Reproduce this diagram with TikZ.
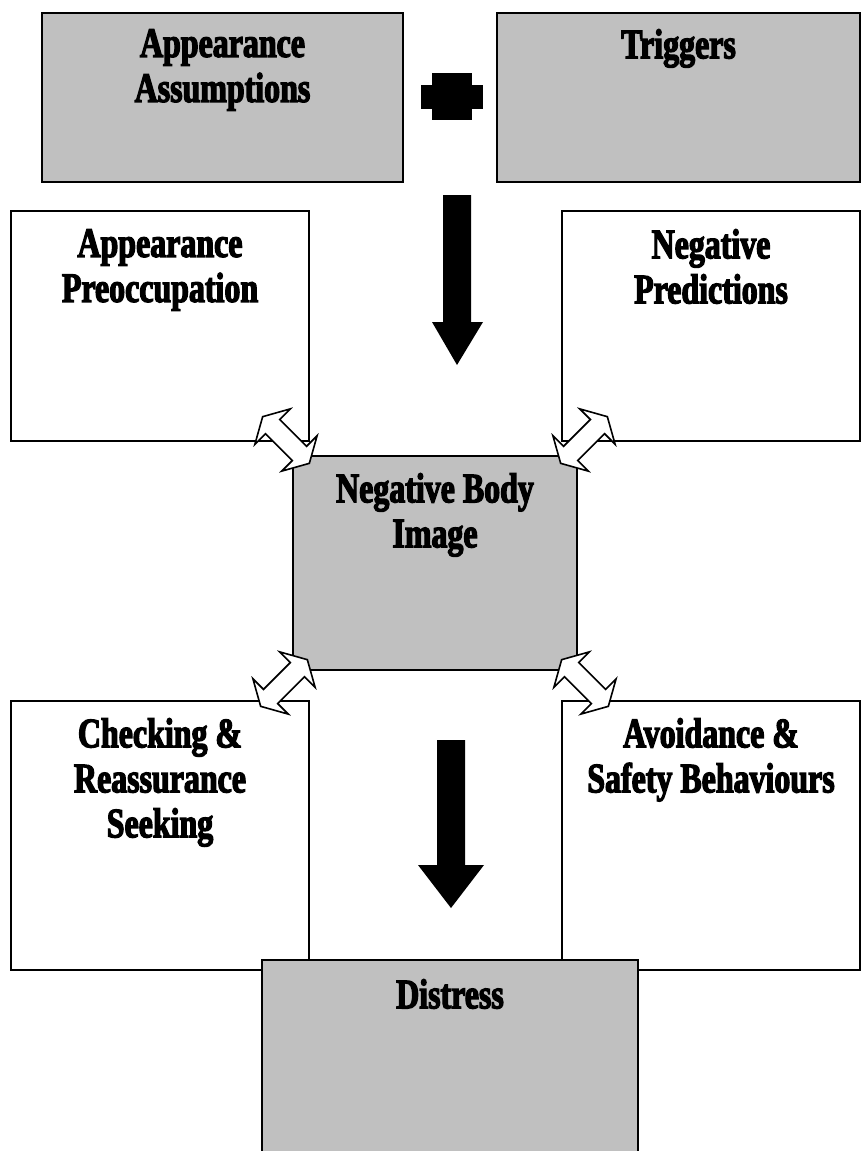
\documentclass[tikz,border=0pt]{standalone}
\usepackage{fontspec}
\newfontfamily\lblfont{Liberation Serif}[FakeStretch=0.76,FakeBold=3]
\definecolor{boxgray}{HTML}{C0C0C0}
\begin{document}
\begin{tikzpicture}[x=1pt,y=-1pt,
  box/.style={draw=black,line width=2pt,inner sep=0pt,fill=white},
  graybox/.style={box,fill=boxgray},
  txt/.style={font=\lblfont\bfseries\fontsize{42}{45}\selectfont,align=center,inner sep=0pt,anchor=north},
  bigarrow/.style={fill=black,draw=none},
  dbl/.style={draw=black,fill=white,line width=1.6pt,line join=miter}]
\useasboundingbox (0,0) rectangle (862,1151);
% boxes
\node[graybox,minimum width=361pt,minimum height=169pt] (aa) at (222.5,97.5) {};
\node[graybox,minimum width=363pt,minimum height=169pt] (tr) at (678.5,97.5) {};
\node[box,minimum width=298pt,minimum height=230pt] (ap) at (160,326) {};
\node[box,minimum width=298pt,minimum height=230pt] (np) at (711,326) {};
\node[graybox,minimum width=284pt,minimum height=214pt] (nbi) at (435,563) {};
\node[box,minimum width=298pt,minimum height=269pt] (cr) at (160,835.5) {};
\node[box,minimum width=298pt,minimum height=269pt] (as) at (711,835.5) {};
\node[graybox,minimum width=376pt,minimum height=192pt] (di) at (450,1056) {};
% texts
\node[txt] (aat) at ([yshift=-17pt]aa.north) {Appearance\\Assumptions};
\node[txt] (trt) at ([yshift=-17pt]tr.north) {Triggers};
\node[txt] (apt) at ([yshift=-19pt]ap.north) {Appearance\\Preoccupation};
\node[txt] (npt) at ([yshift=-19pt]np.north) {Negative\\Predictions};
\node[txt] (nbit) at ([yshift=-18pt]nbi.north) {Negative Body\\Image};
\node[txt] (crt) at ([yshift=-18pt]cr.north) {Checking \&\\Reassurance\\Seeking};
\node[txt] (ast) at ([yshift=-18pt]as.north) {Avoidance \&\\Safety Behaviours};
\node[txt] (dit) at ([yshift=-20pt]di.north) {Distress};
% plus sign
\fill[black] (421,85) rectangle (483,109);
\fill[black] (432,73) rectangle (472,120);
% down arrows
\fill[bigarrow] (443,195) -- (471,195) -- (471,322) -- (483,322) -- (457,365) -- (432,322) -- (443,322) -- cycle;
\fill[bigarrow] (437,740) -- (465,740) -- (465,865) -- (484,865) -- (451,908) -- (418,865) -- (437,865) -- cycle;
% double arrows
\foreach \cx/\cy/\ang in {286/440/-45, 584/440/45, 284/683/45, 585/683/-45}{
  \draw[dbl,shift={(\cx,\cy)},rotate=\ang] (-33,0) -- (-19,25) -- (-19,10) -- (19,10) -- (19,25) -- (33,0) -- (19,-25) -- (19,-10) -- (-19,-10) -- (-19,-25) -- cycle;
}
\end{tikzpicture}
\end{document}
